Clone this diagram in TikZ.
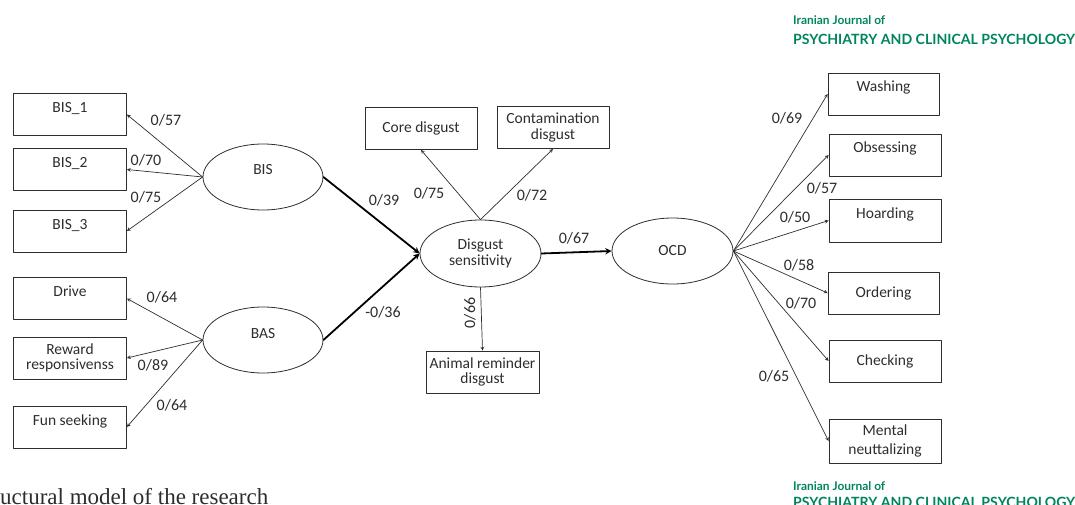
\documentclass[tikz,border=0pt]{standalone}
\usepackage{fontspec}
\usepackage{graphicx}
\setmainfont{Carlito}
\newfontfamily\journalfont{Lato}
\newfontfamily\captionfont{Liberation Serif}
\usetikzlibrary{arrows}
\usetikzlibrary{shapes.geometric}
\definecolor{journalgreen}{RGB}{0,132,94}
\definecolor{inkgray}{RGB}{45,45,45}
\tikzset{
  indicator/.style={draw=inkgray,line width=0.8pt,rectangle,minimum width=112pt,minimum height=42pt,inner sep=1pt,align=center,text=inkgray,font=\fontsize{15.5}{15.5}\selectfont},
  latent/.style={draw=inkgray,line width=0.8pt,ellipse,minimum width=120pt,minimum height=66pt,inner sep=0pt,align=center,text=inkgray,font=\fontsize{15.5}{15.5}\selectfont},
  uptext/.style={text height=11pt,text depth=15pt},
  coef/.style={inner sep=1pt,text=inkgray,font=\fontsize{16}{16}\selectfont},
  loading/.style={->,draw=inkgray,line width=0.7pt},
  structural/.style={->,draw=black,line width=1.8pt},
  journal/.style={inner sep=0pt,anchor=base west,text=journalgreen}
}

\begin{document}
\begin{tikzpicture}[line cap=round,line join=round,>=stealth,x=1pt,y=-1pt]
\useasboundingbox (0,0) rectangle (1075,505);
% latent variables
\node[latent,uptext] (bis) at (263,177) {BIS};
\node[latent,uptext] (bas) at (263,340) {BAS};
\node[latent,minimum width=121pt,minimum height=67pt] (ds) at (480.5,253.5) {Disgust\\sensitivity};
\node[latent,minimum width=121pt] (ocd) at (672.5,251) {OCD};
% BIS / BAS indicators
\node[indicator,minimum width=113pt,uptext] (bisone) at (70,114.5) {BIS\_1};
\node[indicator,minimum width=113pt,uptext] (bistwo) at (70,169.5) {BIS\_2};
\node[indicator,minimum width=113pt,uptext] (bisthree) at (70,231) {BIS\_3};
\node[indicator,minimum width=113pt,uptext] (drive) at (70,298.5) {Drive};
\node[indicator,minimum width=113pt] (reward) at (70,358) {Reward\\responsivenss};
\node[indicator,minimum width=113pt,uptext] (fun) at (70,427) {Fun seeking};
% disgust indicators
\node[indicator] (core) at (421,128.5) {Core disgust};
\node[indicator] (contam) at (553,127.5) {Contamination\\disgust};
\node[indicator,minimum width=113pt] (animal) at (482.5,372) {Animal reminder\\disgust};
% OCD indicators
\node[indicator,minimum width=111pt,uptext] (washing) at (883.5,94) {Washing};
\node[indicator,uptext] (obsessing) at (885,155) {Obsessing};
\node[indicator,minimum height=43pt,uptext] (hoarding) at (885,220.5) {Hoarding};
\node[indicator,minimum width=111pt] (ordering) at (883.5,293) {Ordering};
\node[indicator] (checking) at (885,361) {Checking};
\node[indicator,minimum height=44pt] (mental) at (885,441) {Mental\\[4pt]neuttalizing};

\draw[loading] (bis.west) -- (bisone.east);
\draw[loading] (bis.west) -- (bistwo.east);
\draw[loading] (bis.west) -- (bisthree.east);
\draw[loading] (bas.west) -- (drive.east);
\draw[loading] (bas.west) -- (reward.east);
\draw[loading] (bas.west) -- (fun.east);
\draw[loading] (ds.north) -- (core.south);
\draw[loading] (ds.north) -- (contam.south);
\draw[loading] (ds.south) -- (animal.north);
\draw[structural] (bis.east) -- (ds.west);
\draw[structural] (bas.east) -- (ds.west);
\draw[structural] (ds.east) -- (ocd.west);
\draw[loading] (ocd.east) -- (washing.west);
\draw[loading] (ocd.east) -- (obsessing.west);
\draw[loading] (ocd.east) -- (hoarding.west);
\draw[loading] (ocd.east) -- (ordering.west);
\draw[loading] (ocd.east) -- (checking.west);
\draw[loading] (ocd.east) -- (mental.west);

% coefficients
\node[coef] (cbisone) at (166,120) {0/57};
\node[coef] (cbistwo) at (146,160) {0/70};
\node[coef] (cbisthree) at (146,197) {0/75};
\node[coef] (cdrive) at (162,297) {0/64};
\node[coef] (creward) at (153,365) {0/89};
\node[coef] (cfun) at (172,405) {0/64};
\node[coef] (cbis) at (384,200) {0/39};
\node[coef] (cbas) at (383,312) {-0/36};
\node[coef] (ccore) at (429,193) {0/75};
\node[coef] (ccontam) at (532,195) {0/72};
\node[coef,rotate=90] (canimal) at (470,313) {0/66};
\node[coef] (cocd) at (574,238) {0/67};
\node[coef] (cwashing) at (787,118) {0/69};
\node[coef] (cobsessing) at (822,188) {0/57};
\node[coef] (choarding) at (795,217) {0/50};
\node[coef] (cordering) at (799,265) {0/58};
\node[coef] (cchecking) at (801,303) {0/70};
\node[coef] (cmental) at (774,376) {0/65};

% journal marks and caption
\node[journal] (jtopa) at (793,24.5) {\resizebox{92pt}{!}{\journalfont\bfseries Iranian Journal of}};
\node[journal] (jtopb) at (793,45) {\resizebox{282pt}{!}{\journalfont\bfseries PSYCHIATRY AND CLINICAL PSYCHOLOGY}};
\node[journal] (jbota) at (793,490) {\resizebox{92pt}{!}{\journalfont\bfseries Iranian Journal of}};
\node[journal] (jbotb) at (793,507) {\resizebox{282pt}{!}{\journalfont\bfseries PSYCHIATRY AND CLINICAL PSYCHOLOGY}};
\node[inner sep=0pt,anchor=base west,text=inkgray] (caption) at (0,504) {\resizebox{268pt}{!}{\captionfont uctural model of the research}};
\end{tikzpicture}
\end{document}
